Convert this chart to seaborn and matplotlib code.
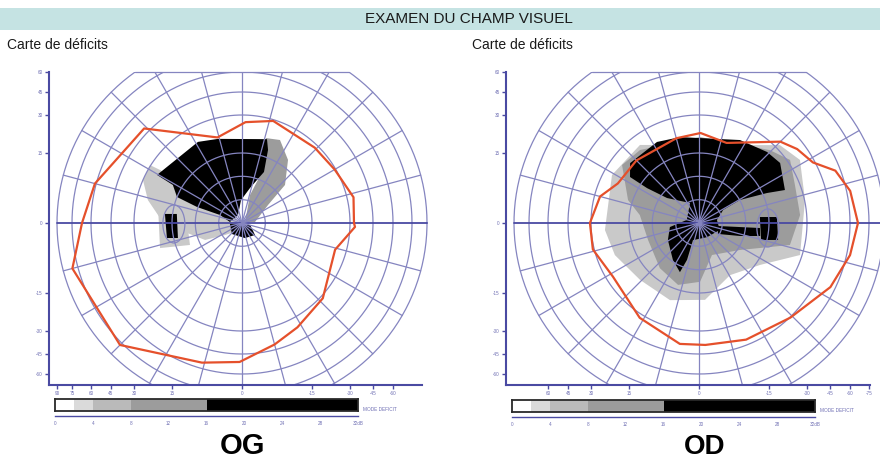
import numpy as np
import matplotlib
matplotlib.use("Agg")
import matplotlib.pyplot as plt
import seaborn as sns
from matplotlib.patches import Ellipse, Rectangle

# ---- data : meridian angle (deg) / eccentricity (deg) ----
og_isopter_ang = [0, 13, 30, 46, 73, 88, 106, 136, 165, 180, 195, 225, 254, 269, 285, 298, 317, 344, 358]
og_isopter_ecc = [32.6, 34.2, 29.6, 28.7, 29.5, 27.2, 22.5, 48.8, 61, 67.1, 80.6, 77.5, 55.7, 51, 41.6, 36.6, 31.6, 25.6, 33.3]

od_isopter_ang = [0, 12, 21, 28, 37, 45, 71, 89, 105, 135, 154, 165, 180, 194, 212, 238, 261, 273, 292, 314, 334, 348]
od_isopter_ecc = [66.3, 62.8, 56.3, 43.7, 39.7, 34.6, 20.8, 22.9, 22, 22.3, 23, 27.8, 30.7, 30.9, 27.4, 32.5, 39.4, 39.2, 41.6, 45.4, 56.4, 62.7]

# deficit zones (angle, eccentricity)
og_light = [(147.8, 30.5), (156.5, 30.0), (166.3, 25.6), (176.5, 19.8), (189, 12.4), (204.7, 8.7),
            (215.2, 4.5), (254, 1.6), (131.2, 2.3), (147.1, 25.9)]
og_blind_gray = [(167.9, 21.3), (162.5, 12.8), (202.9, 12.1), (197, 21.2)]
og_mid = [(74.2, 22.2), (65.4, 23.4), (53.9, 18.2), (41.5, 12.3), (34.7, 6.8), (4.4, 2.8),
          (18.4, 0.7), (74.1, 6.2), (68.6, 11.7)]
og_black = [(150.5, 25.9), (118.5, 23.8), (105.9, 21.9), (73.4, 21.9), (70.4, 18.0), (66.7, 11.9),
            (77.1, 7.7), (92.5, 4.9), (116.6, 1.9), (175.2, 2.6), (160.0, 5.0), (160.4, 10.2),
            (158.2, 15.0), (151.2, 18.5)]
og_black_low = [(184.8, 2.6), (346, 1.8), (317.3, 3.8), (281.3, 3.3), (227.7, 3.2)]
og_blind_black = [(173.3, 18.0), (172.1, 14.1), (193.2, 14.1), (191.3, 17.6)]
og_blind = (180.8, 14.6)

od_light = [(151.1, 26.6), (184.3, 24.6), (200.9, 22.9), (224, 19.7), (249.4, 19.9), (274.5, 17.8),
            (300.8, 13.0), (325.5, 16.6), (342.4, 29.2), (12.2, 30.3), (32, 37.2), (43.9, 32.8),
            (127.1, 26)]
od_mid = [(143.0, 25.4), (162.1, 16.8), (172.3, 12.8), (198.4, 11.5), (229.1, 12.8), (251.3, 14.0),
          (271, 12.6), (292.1, 7.4), (326.6, 10.5), (346.4, 24.3), (4.5, 27.4), (21.6, 28.1),
          (34.7, 31.8), (45.8, 27.5), (89.3, 21.3), (128.9, 24.4)]
od_black = [(146.3, 20.1), (139.0, 23.4), (117.4, 23.4), (102.5, 22.1), (63.7, 23.9), (46.2, 26.2),
            (36.5, 27.2), (21.0, 23.7), (23.8, 16.7), (29.3, 10.1), (28.4, 5.9), (9.5, 3.9),
            (341.6, 4.7), (299.7, 3.5), (250.6, 3.9), (252.0, 8.3), (248.8, 11.3), (234.9, 9.7),
            (208.7, 7.6), (187.9, 6.3), (166, 2.7), (114.2, 4.7), (142, 8.7), (146.1, 13.4)]
od_streak = [(351, 4.1), (355.3, 13.1), (348, 13.4), (342.4, 9.2), (330, 4.7)]
od_blind_black = [(5.6, 13.1), (4.4, 18.2), (347.9, 19.3), (344.7, 13.8)]
od_blind = (355.9, 14.8)

og_xticks = [90, 75, 60, 45, 30, 15, 0, -15, -30, -45, -60]
od_xticks = [60, 45, 30, 15, 0, -15, -30, -45, -60, -75]
yticks = [60, 45, 30, 15, 0, -15, -30, -45, -60]
circles = [5, 10, 15, 30, 45, 60, 75, 90]
meridians = np.arange(0, 360, 15)

scale_edges = [0, 2, 4, 8, 16, 32]
scale_colors = ["white", "#dadada", "#bababa", "#9c9c9c", "black"]
scale_ticks = [0, 4, 8, 12, 16, 20, 24, 28, 32]

# ---- style ----
sns.set_theme(style="white")
plt.rcParams["font.family"] = ["Liberation Sans", "DejaVu Sans"]
GRID = "#8585c0"
AXIS = "#4a4aa2"
LABEL = "#7070b4"
RED = "#e5502b"

# radial scale of the chart: eccentricity -> plot units
scale_deg = [0, 5, 10, 15, 30, 45, 60, 75, 90]
scale_pu = [0, 23.3, 46.7, 70, 108, 131, 151, 170, 185]


def rad(e):
    return np.interp(np.abs(e), scale_deg, scale_pu) * np.sign(e)


def to_xy(ang, ecc):
    r = np.interp(ecc, scale_deg, scale_pu)
    a = np.radians(ang)
    return r * np.cos(a), r * np.sin(a)


W, H = 880, 461
fig = plt.figure(figsize=(W / 100, H / 100), dpi=100)


def rect(x0, y0, x1, y1):
    return [x0 / W, 1 - y1 / H, (x1 - x0) / W, (y1 - y0) / H]


def field(box, xlim, xticks, iso_ang, iso_ecc, zones, blind):
    ax = fig.add_axes(rect(*box))
    ax.set_xlim(*xlim)
    ax.set_ylim(-162, 151)
    ax.set_facecolor("white")

    for pts, col in zones:
        a, e = zip(*pts)
        x, y = to_xy(np.array(a), np.array(e))
        ax.fill(x, y, color=col, lw=0, zorder=1)

    # grid
    t = np.linspace(0, 2 * np.pi, 300)
    for c in circles:
        r = rad(c)
        ax.plot(r * np.cos(t), r * np.sin(t), color=GRID, lw=0.9, zorder=2)
    for m in meridians:
        x, y = to_xy(np.array([m, m]), np.array([0, 90]))
        lw, col = (1.3, AXIS) if m % 180 == 0 else (0.9, GRID)
        ax.plot(x, y, color=col, lw=lw, zorder=2)
    top = rad(60)
    half = np.sqrt(rad(90) ** 2 - top ** 2)
    ax.plot([-half, half], [top, top], color=GRID, lw=0.9, clip_on=False, zorder=2)

    bx, by = to_xy(blind[0], blind[1])
    ax.add_patch(Ellipse((bx, by), 22, 38, fill=False, ec=GRID, lw=0.9, zorder=3))

    # isopter
    ix, iy = to_xy(np.array(iso_ang + iso_ang[:1]), np.array(iso_ecc + iso_ecc[:1]))
    sns.lineplot(x=ix, y=iy, sort=False, estimator=None, color=RED, lw=1.6, ax=ax, zorder=4)

    for s in ["top", "right"]:
        ax.spines[s].set_visible(False)
    for s in ["left", "bottom"]:
        ax.spines[s].set_color(AXIS)
        ax.spines[s].set_linewidth(1.5)
    ax.spines["bottom"].set_bounds(xlim[0], xlim[1] - 10)
    ax.set_xticks([-rad(d) for d in xticks])
    ax.set_xticklabels([str(d) for d in xticks])
    ax.set_yticks([rad(d) for d in yticks])
    ax.set_yticklabels([str(d) for d in yticks])
    ax.tick_params(axis="both", colors=AXIS, labelcolor=LABEL, labelsize=3.3,
                   length=3, width=1, pad=1.5, left=True, bottom=True)
    ax.grid(False)
    return ax


def scale_bar(x0, y0, label_x):
    ax = fig.add_axes(rect(x0, y0, x0 + 303, y0 + 12))
    widths = np.diff(scale_edges)
    ax.barh(0, widths, left=scale_edges[:-1], height=1, color=scale_colors, lw=0)
    ax.set_xlim(0, 32)
    ax.set_ylim(-0.5, 0.5)
    ax.set_xticks([])
    ax.set_yticks([])
    for s in ax.spines.values():
        s.set_visible(True)
        s.set_color("#2a2a2a")
        s.set_linewidth(1.3)
    sc = fig.add_axes(rect(x0, y0 + 16, x0 + 303, y0 + 16.5))
    sc.set_xlim(0, 32)
    sc.set_yticks([])
    sc.set_facecolor("none")
    for s in ["top", "left", "right"]:
        sc.spines[s].set_visible(False)
    sc.spines["bottom"].set_color(AXIS)
    sc.spines["bottom"].set_linewidth(1)
    sc.set_xticks(scale_ticks)
    sc.set_xticklabels([str(v) for v in scale_ticks[:-1]] + ["32dB"])
    sc.tick_params(axis="x", direction="inout", colors=AXIS, labelcolor=LABEL,
                   labelsize=3.3, length=4, width=1, pad=2)
    fig.text(label_x / W, 1 - (y0 + 10) / H, "MODE DEFICIT", fontsize=3.4,
             color=LABEL, ha="left", va="center")


# header
fig.add_artist(Rectangle((0, 1 - 30 / H), 1, 22 / H, transform=fig.transFigure,
                         color="#c5e3e3", lw=0, zorder=0))
fig.text(469 / W, 1 - 19 / H, "EXAMEN DU CHAMP VISUEL", fontsize=11, color="#1a1a1a",
         ha="center", va="center")
fig.text(7 / W, 1 - 45 / H, "Carte de déficits", fontsize=10, color="#1a1a1a", ha="left", va="center")
fig.text(472 / W, 1 - 45 / H, "Carte de déficits", fontsize=10, color="#1a1a1a", ha="left", va="center")

field((49, 72, 432, 385), (-193, 190), og_xticks, og_isopter_ang, og_isopter_ecc,
      [(og_light, "#c9c9c9"), (og_blind_gray, "#c9c9c9"), (og_mid, "#9c9c9c"),
       (og_black, "black"), (og_black_low, "black"), (og_blind_black, "black")], og_blind)
field((506, 72, 880, 385), (-193, 181), od_xticks, od_isopter_ang, od_isopter_ecc,
      [(od_light, "#c9c9c9"), (od_mid, "#9c9c9c"), (od_black, "black"),
       (od_streak, "black"), (od_blind_black, "black")], od_blind)

scale_bar(55, 399, 363)
scale_bar(512, 400, 820)

fig.text(242 / W, 1 - 446 / H, "OG", fontsize=21, fontweight="bold", color="black",
         ha="center", va="center")
fig.text(705 / W, 1 - 447 / H, "OD", fontsize=20, fontweight="bold", color="black",
         ha="center", va="center")

fig.savefig("out.png", dpi=100, facecolor="white")
